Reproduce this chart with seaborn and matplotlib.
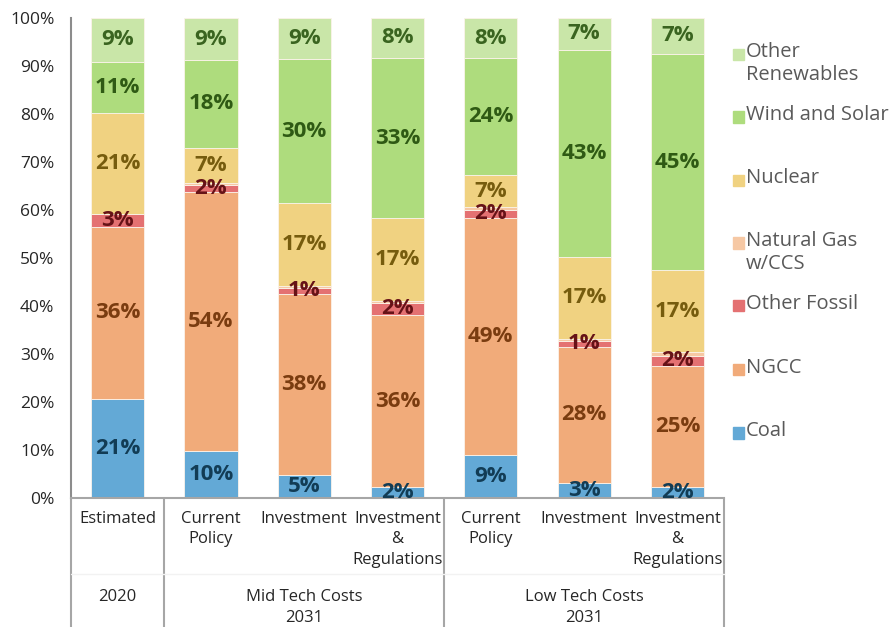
import numpy as np
import pandas as pd
import seaborn as sns
import matplotlib.pyplot as plt
from matplotlib.patches import Rectangle

# Dados (em % da geração)
cenarios = ['Estimated', 'Current\nPolicy', 'Investment', 'Investment\n&\nRegulations',
            'Current\nPolicy', 'Investment', 'Investment\n&\nRegulations']
grupos = ['2020', 'Mid Tech Costs\n2031', 'Low Tech Costs\n2031']
grupo_centros = [0, 2, 5]
separadores = [-0.5, 0.5, 3.5, 6.5]

coal = [20.7, 9.8, 4.8, 2.2, 9.0, 3.2, 2.2]
ngcc = [35.7, 53.9, 37.8, 36.0, 49.4, 28.3, 25.4]
other_fossil = [2.7, 1.5, 1.2, 2.4, 1.6, 1.3, 2.0]
ng_ccs = [0.0, 0.5, 0.4, 0.4, 0.6, 0.4, 0.8]
nuclear = [21.1, 7.3, 17.3, 17.3, 6.6, 17.0, 17.0]
wind_solar = [10.7, 18.2, 29.9, 33.4, 24.4, 43.2, 45.2]
other_ren = [9.1, 8.8, 8.6, 8.3, 8.4, 6.6, 7.4]

fontes = ['Other Renewables', 'Wind and Solar', 'Nuclear', 'Natural Gas w/CCS',
          'Other Fossil', 'NGCC', 'Coal']
legenda = ['Other\nRenewables', 'Wind and Solar', 'Nuclear', 'Natural Gas\nw/CCS',
           'Other Fossil', 'NGCC', 'Coal']
valores = [other_ren, wind_solar, nuclear, ng_ccs, other_fossil, ngcc, coal]
cores = ['#c9e6a8', '#aedc7d', '#f0d281', '#f6c8a4', '#e47172', '#f1ab7a', '#63a9d6']
cores_texto = ['#3a6420', '#2f5a14', '#765c0e', None, '#661217', '#7a3c10', '#123c55']

rows = []
for fonte, vals in zip(fontes, valores):
    for i, v in enumerate(vals):
        rows.append({'pos': i, 'valor': v, 'fonte': fonte})
df = pd.DataFrame(rows)

sns.set_style('white')
plt.rcParams['font.family'] = ['Open Sans', 'DejaVu Sans']

fig = plt.figure(figsize=(8.93, 6.27), dpi=100)
ax = fig.add_axes([0.0795, 0.2057, 0.7313, 0.7656])

sns.histplot(data=df, x='pos', weights='valor', hue='fonte', hue_order=fontes,
             palette=dict(zip(fontes, cores)), multiple='stack', discrete=True,
             shrink=0.57, alpha=1, edgecolor='#fbf3ea', linewidth=0.6,
             legend=False, ax=ax)

ax.set_xlim(-0.5, 6.5)
ax.set_ylim(0, 100)
ax.set_yticks(np.arange(0, 101, 10))
ax.set_yticklabels([f'{v}%' for v in range(0, 101, 10)], fontsize=12.5, color='#262626')
ax.tick_params(axis='y', length=0, pad=12)
ax.set_xticks([])
ax.set_xlabel('')
ax.set_ylabel('')
for lado in ['top', 'right']:
    ax.spines[lado].set_visible(False)
ax.spines['left'].set_color('#8c8c8c')
ax.spines['left'].set_linewidth(1.5)
ax.spines['bottom'].set_color('#a6a6a6')
ax.spines['bottom'].set_linewidth(1.5)

# rótulos de porcentagem no centro de cada segmento (de baixo para cima)
base = np.zeros(len(cenarios))
for fonte, vals, ct in reversed(list(zip(fontes, valores, cores_texto))):
    vals = np.array(vals)
    if ct is not None:
        for i, v in enumerate(vals):
            ax.text(i, base[i] + v / 2, f'{round(v):.0f}%', ha='center', va='center',
                    fontsize=16, fontweight='bold', color=ct)
    base += vals

# eixo categórico em dois níveis
trans = ax.get_xaxis_transform()
for i, c in enumerate(cenarios):
    ax.text(i, -0.026, c, transform=trans, ha='center', va='top', fontsize=12,
            color='#262626', linespacing=1.38)
for x, g in zip(grupo_centros, grupos):
    ax.text(x, -0.19, g, transform=trans, ha='center', va='top', fontsize=12,
            color='#262626', linespacing=1.38)
for x in separadores:
    ax.plot([x, x], [0, -0.28], transform=trans, color='#a6a6a6', lw=1.5, clip_on=False)
ax.plot([-0.5, 6.5], [-0.158, -0.158], transform=trans, color='#f2f2f2', lw=1, clip_on=False)

# legenda
y_leg = [0.913, 0.813, 0.712, 0.612, 0.512, 0.410, 0.309]
for rotulo, cor, y in zip(legenda, cores, y_leg):
    fig.patches.append(Rectangle((0.8205, y - 0.0085), 0.0125, 0.0178, color=cor,
                                 transform=fig.transFigure, figure=fig))
    fig.text(0.8355, y + 0.0195, rotulo, ha='left', va='top', fontsize=14.5,
             color='#595959', linespacing=1.2)

plt.savefig('out.png', dpi=100)
